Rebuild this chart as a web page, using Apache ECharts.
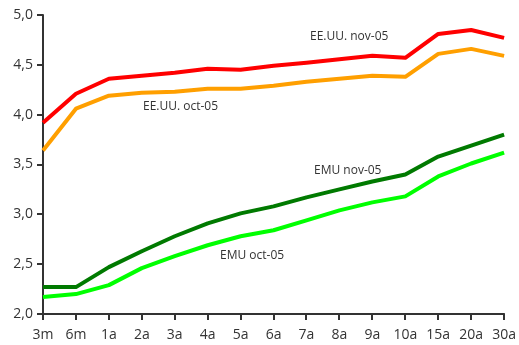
<!DOCTYPE html>
<html>
<head>
<meta charset="utf-8">
<script src="https://cdn.jsdelivr.net/npm/echarts@6/dist/echarts.min.js"></script>
<style>
  html, body { margin: 0; padding: 0; background: #fff; }
  #chart { width: 519px; height: 345px; }
</style>
</head>
<body>
<div id="chart"></div>
<script>
// Yield curve maturities
const maturities = ['3m', '6m', '1a', '2a', '3a', '4a', '5a', '6a', '7a', '8a', '9a', '10a', '15a', '20a', '30a'];

// Value-axis tick positions (%)
const yTicks = [2.0, 2.5, 3.0, 3.5, 4.0, 4.5, 5.0];

// Yields (%) by maturity
const usNov05  = [3.92, 4.21, 4.36, 4.39, 4.42, 4.46, 4.45, 4.49, 4.52, 4.555, 4.59, 4.57, 4.81, 4.85, 4.77];
const usOct05  = [3.64, 4.06, 4.19, 4.22, 4.23, 4.26, 4.26, 4.29, 4.33, 4.36, 4.39, 4.38, 4.61, 4.66, 4.59];
const emuNov05 = [2.27, 2.27, 2.47, 2.63, 2.78, 2.91, 3.01, 3.08, 3.17, 3.25, 3.33, 3.40, 3.58, 3.69, 3.80];
const emuOct05 = [2.17, 2.20, 2.29, 2.46, 2.58, 2.69, 2.78, 2.84, 2.94, 3.04, 3.12, 3.18, 3.38, 3.51, 3.62];

const font = '"Open Sans", "Noto Sans", sans-serif';
const axisColor = '#333';
const tickLen = 6;

function line(name, data, color) {
  return {
    name, type: 'line', data,
    symbol: 'none',
    lineStyle: { color, width: 4, join: 'round' },
    z: 2
  };
}

const chart = echarts.init(document.getElementById('chart'));
chart.setOption({
  animation: false,
  grid: { left: 43, right: 13, top: 15, bottom: 31 },
  xAxis: {
    type: 'category',
    data: maturities,
    boundaryGap: false,
    axisLine: { show: true, lineStyle: { color: axisColor, width: 2 } },
    axisTick: { show: false },
    axisLabel: { color: axisColor, fontFamily: font, fontSize: 14, margin: 14, interval: 0 }
  },
  yAxis: {
    type: 'value',
    min: 2, max: 5, interval: 0.5,
    axisLine: { show: true, lineStyle: { color: axisColor, width: 2 } },
    axisTick: { show: false },
    splitLine: { show: false },
    axisLabel: {
      color: axisColor, fontFamily: font, fontSize: 14, margin: 10,
      formatter: v => v.toFixed(1).replace('.', ',')
    }
  },
  series: [
    line('EMU oct-05', emuOct05, '#00ff00'),
    line('EMU nov-05', emuNov05, '#007a00'),
    line('EE.UU. oct-05', usOct05, '#ff9f00'),
    line('EE.UU. nov-05', usNov05, '#ff0000')
  ]
});

// Outward tick marks on both axes, positioned through each axis scale
const xBase = chart.convertToPixel({ xAxisIndex: 0 }, 0);
const yBase = chart.convertToPixel({ yAxisIndex: 0 }, yTicks[0]);
const ticks = [];
maturities.forEach((m, i) => {
  const x = Math.round(chart.convertToPixel({ xAxisIndex: 0 }, i));
  ticks.push({ type: 'line', silent: true, z: 100,
    shape: { x1: x, y1: yBase, x2: x, y2: yBase + tickLen },
    style: { stroke: axisColor, lineWidth: 2 } });
});
yTicks.forEach(v => {
  const y = Math.round(chart.convertToPixel({ yAxisIndex: 0 }, v));
  ticks.push({ type: 'line', silent: true, z: 100,
    shape: { x1: xBase - tickLen, y1: y, x2: xBase, y2: y },
    style: { stroke: axisColor, lineWidth: 2 } });
});

// Series captions
const captions = [
  { text: 'EE.UU. nov-05', left: 310, top: 31 },
  { text: 'EE.UU. oct-05', left: 143, top: 101 },
  { text: 'EMU nov-05',    left: 314, top: 165 },
  { text: 'EMU oct-05',    left: 220, top: 250 }
].map(c => ({ type: 'text', left: c.left, top: c.top,
  style: { text: c.text, font: '12px ' + font, fill: axisColor } }));

chart.setOption({ graphic: ticks.concat(captions) });
</script>
</body>
</html>
